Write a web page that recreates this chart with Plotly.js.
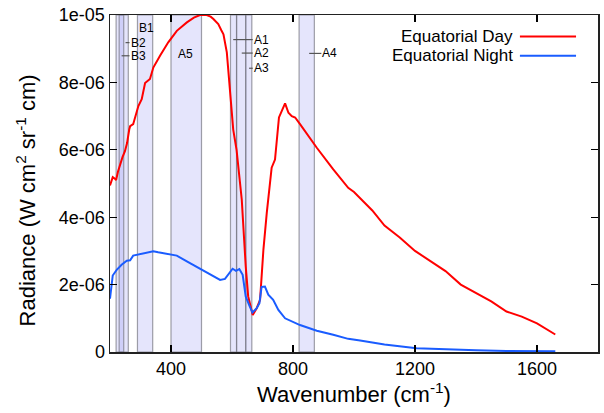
<!DOCTYPE html>
<html>
<head>
<meta charset="utf-8">
<script src="https://cdn.plot.ly/plotly-3.0.1.min.js"></script>
<style>html,body{margin:0;padding:0;background:#fff;}#chart{width:604px;height:413px;}</style>
</head>
<body>
<div id="chart"></div>
<script>
// ---- data ----
const seriesNames = ["Equatorial Day", "Equatorial Night"];

const dayWavenumber = [200,205,209,215,220,226,233,241,249,256,263,266,276,284,293,304,315,331,342,364,391,419,452,475,495,517,530,539,550,555,565,572,583,588,593,604,615,632,645,653,668,681,692,703,714,730,741,754,774,785,796,807,823,878,932,981,1000,1040,1060,1100,1150,1200,1250,1300,1350,1400,1450,1500,1550,1600,1660];
const dayRadiance = [4.94e-6,5.05e-6,5.19e-6,5.15e-6,5.10e-6,5.35e-6,5.57e-6,5.78e-6,5.96e-6,6.2e-6,6.6e-6,6.7e-6,6.76e-6,7.05e-6,7.3e-6,7.5e-6,7.98e-6,8.1e-6,8.44e-6,8.79e-6,9.19e-6,9.53e-6,9.78e-6,9.92e-6,10.0e-6,10.0e-6,9.95e-6,9.88e-6,9.76e-6,9.73e-6,9.55e-6,9.43e-6,8.89e-6,8.4e-6,7.7e-6,6.6e-6,6.0e-6,4.52e-6,2.54e-6,1.65e-6,1.10e-6,1.30e-6,1.55e-6,3.04e-6,4.13e-6,5.47e-6,5.71e-6,6.96e-6,7.38e-6,7.1e-6,7.0e-6,6.96e-6,6.76e-6,6.06e-6,5.42e-6,4.87e-6,4.75e-6,4.4e-6,4.2e-6,3.75e-6,3.4e-6,3.0e-6,2.7e-6,2.4e-6,2.0e-6,1.75e-6,1.5e-6,1.2e-6,1.05e-6,0.85e-6,0.52e-6];

const nightWavenumber = [200,204,209,222,238,255,266,276,298,326,342,358,386,419,452,495,528,561,577,588,602,613,624,635,645,656,667,681,690,697,708,719,735,752,774,823,878,932,981,1020,1100,1205,1300,1400,1500,1600,1660];
const nightRadiance = [1.58e-6,2.0e-6,2.27e-6,2.44e-6,2.59e-6,2.71e-6,2.72e-6,2.86e-6,2.90e-6,2.97e-6,2.99e-6,2.96e-6,2.92e-6,2.86e-6,2.69e-6,2.47e-6,2.31e-6,2.14e-6,2.17e-6,2.29e-6,2.47e-6,2.41e-6,2.46e-6,2.29e-6,1.65e-6,1.40e-6,1.17e-6,1.30e-6,1.45e-6,1.93e-6,1.94e-6,1.70e-6,1.55e-6,1.25e-6,1.00e-6,0.80e-6,0.63e-6,0.51e-6,0.39e-6,0.34e-6,0.22e-6,0.11e-6,0.07e-6,0.05e-6,0.03e-6,0.02e-6,0.02e-6];

// instrument channels (cm^-1)
const bandNames = ["B2","B3","B1","A5","A1","A2","A3","A4"];
const bandStart = [220,230,290,400,595,615,645,820];
const bandEnd   = [260,245,340,500,615,645,665,870];

const yTickValues = [0,2e-6,4e-6,6e-6,8e-6,1e-5];
const yTickLabels = ["0","2e-06","4e-06","6e-06","8e-06","1e-05"];

// ---- label placement (layout only) ----
const labelLayout = {
  B1: {x0:null, xt:292, y:9.6e-6},
  B2: {x0:251, xt:264, y:9.18e-6},
  B3: {x0:238, xt:264, y:8.79e-6},
  A5: {x0:null, xt:420, y:8.84e-6},
  A1: {x0:604, xt:668, y:9.27e-6},
  A2: {x0:632, xt:668, y:8.87e-6},
  A3: {x0:656, xt:668, y:8.42e-6},
  A4: {x0:853, xt:893, y:8.86e-6}
};

const FONT = "Liberation Sans, Arial, Helvetica, sans-serif";
const shapes = [];
const annotations = [];

bandNames.forEach((n, i) => {
  shapes.push({type:"rect", xref:"x", yref:"paper", x0:bandStart[i], x1:bandEnd[i], y0:0, y1:1,
    fillcolor:"rgba(100,100,235,0.17)", line:{color:"rgba(120,120,130,0.7)", width:1.2}, layer:"below"});
});
bandNames.forEach((n) => {
  const L = labelLayout[n];
  if (L.x0 !== null) {
    shapes.push({type:"line", xref:"x", yref:"y", x0:L.x0, x1:L.xt, y0:L.y, y1:L.y,
      line:{color:"#555", width:1.2}, layer:"above"});
  }
  annotations.push({x:L.xt, y:L.y, xref:"x", yref:"y", text:n, showarrow:false,
    xanchor:"left", yanchor:"middle", borderpad:0, font:{family:FONT, size:12, color:"#000"}});
});

// legend (text at left, sample line at right, gnuplot style)
const seriesColors = ["#ff0000", "#1a5cff"];
const legendY = [0.936, 0.879];
seriesNames.forEach((n, i) => {
  annotations.push({x:0.829, y:legendY[i], xref:"paper", yref:"paper", text:n, showarrow:false,
    xanchor:"right", yanchor:"middle", font:{family:FONT, size:17, color:"#000"}});
  shapes.push({type:"line", xref:"paper", yref:"paper", x0:0.840, x1:0.955, y0:legendY[i], y1:legendY[i],
    line:{color:seriesColors[i], width:2}});
});

// y-axis title placed like the reference (slightly below plot centre)
annotations.push({x:-0.172, y:0.45, xref:"paper", yref:"paper", text:"Radiance (W cm<sup>2</sup> sr<sup>-1</sup> cm)",
  textangle:-90, showarrow:false, xanchor:"center", yanchor:"middle", font:{family:FONT, size:22, color:"#000"}});

const traces = [
  {x:dayWavenumber, y:dayRadiance, type:"scatter", mode:"lines", name:seriesNames[0],
   line:{color:seriesColors[0], width:2}},
  {x:nightWavenumber, y:nightRadiance, type:"scatter", mode:"lines", name:seriesNames[1],
   line:{color:seriesColors[1], width:2}}
];

const layout = {
  width:604, height:413,
  margin:{l:110, r:6, t:15, b:61},
  paper_bgcolor:"#fff", plot_bgcolor:"#fff",
  showlegend:false,
  font:{family:FONT, size:18, color:"#000"},
  xaxis:{range:[200,1800], tick0:0, dtick:400, ticks:"inside", ticklen:7, tickwidth:1.2, tickcolor:"#000",
    showline:true, linecolor:"#222", linewidth:1.5, mirror:"allticks", showgrid:false, zeroline:false,
    tickfont:{family:FONT, size:18},
    title:{text:"Wavenumber (cm<sup>-1</sup>)", font:{family:FONT, size:22}, standoff:7}},
  yaxis:{range:[0,1e-5], tickvals:yTickValues, ticktext:yTickLabels, ticks:"inside", ticklen:7, tickwidth:1.2, tickcolor:"#000",
    showline:true, linecolor:"#222", linewidth:1.5, mirror:"allticks", showgrid:false, zeroline:false,
    tickfont:{family:FONT, size:18}},
  shapes:shapes,
  annotations:annotations
};

Plotly.newPlot("chart", traces, layout, {displayModeBar:false, staticPlot:true});
</script>
</body>
</html>
